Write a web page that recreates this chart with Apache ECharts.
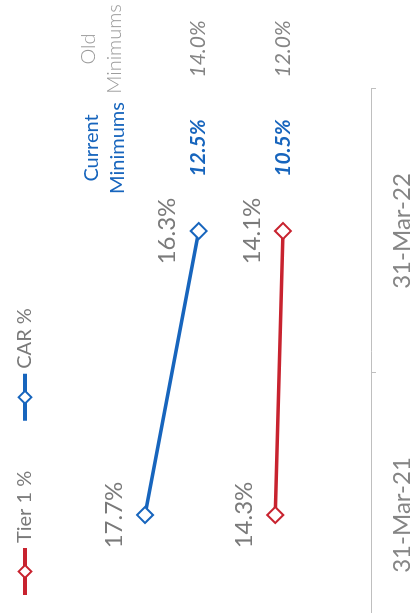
<!DOCTYPE html>
<html>
<head>
<meta charset="utf-8">
<script src="https://cdn.jsdelivr.net/npm/echarts@6/dist/echarts.min.js"></script>
<style>
  html, body { margin: 0; padding: 0; background: #fff; }
  .page { width: 412px; height: 613px; position: relative; overflow: hidden; }
  /* chart is drawn upright and then turned a quarter turn, like the scan */
  .chart {
    position: absolute; left: 0; top: 0;
    width: 613px; height: 412px;
    transform-origin: 0 0;
    transform: translate(0, 613px) rotate(-90deg);
  }
</style>
</head>
<body>
<div class="page"><div class="chart" id="main"></div></div>
<script>
// data
const categories = ['31-Mar-21', '31-Mar-22'];
const tier1 = [14.3, 14.1];
const car = [17.7, 16.3];
// minimums table (row order: CAR, Tier 1)
const currentMin = [12.5, 10.5];
const oldMin = [14.0, 12.0];
const colTitles = ['Current\nMinimums', 'Old\nMinimums'];

const fontFam = 'Lato, "Open Sans", sans-serif';
const grey = '#7a7a7a';
const blue = '#1765bd';
const red = '#c8232f';

const chart = echarts.init(document.getElementById('main'));

const pct = (p) => p.value.toFixed(1) + '%';

chart.setOption({
  backgroundColor: '#fff',
  animation: false,
  textStyle: { fontFamily: fontFam },
  legend: {
    data: ['Tier 1 %', 'CAR %'],
    left: 11,
    top: 10,
    itemWidth: 47,
    itemHeight: 16,
    itemGap: 48,
    lineStyle: { width: 4 },
    textStyle: { fontSize: 20, color: grey, fontFamily: fontFam }
  },
  grid: {
    left: -44,
    right: 89,
    top: 57,
    bottom: 41,
    outerBoundsMode: 'none',
    containLabel: false
  },
  xAxis: {
    type: 'category',
    data: categories,
    boundaryGap: true,
    axisLine: { lineStyle: { color: '#bfbfbf', width: 1 } },
    axisTick: { show: true, length: 5, lineStyle: { color: '#bfbfbf' } },
    axisLabel: { fontSize: 24, color: '#858585', margin: 19, fontFamily: fontFam }
  },
  yAxis: {
    type: 'value',
    min: 11.8,
    max: 20,
    show: false,
    splitLine: { show: false }
  },
  series: [
    {
      name: 'Tier 1 %',
      type: 'line',
      data: tier1,
      symbol: 'emptyDiamond',
      symbolSize: 16,
      color: red,
      lineStyle: { width: 3.5, color: red },
      itemStyle: { color: red, borderWidth: 2 },
      label: { show: true, position: 'top', distance: 10, fontSize: 24, color: grey, formatter: pct }
    },
    {
      name: 'CAR %',
      type: 'line',
      data: car,
      symbol: 'emptyDiamond',
      symbolSize: 16,
      color: blue,
      lineStyle: { width: 3.5, color: blue },
      itemStyle: { color: blue, borderWidth: 2 },
      label: { show: true, position: 'top', distance: 10, fontSize: 24, color: grey, formatter: pct }
    }
  ]
});

// minimums table: rows sit level with the latest point of each series
const rowY = [
  chart.convertToPixel({ yAxisIndex: 0 }, car[1]),
  chart.convertToPixel({ yAxisIndex: 0 }, tier1[1])
];
const curX = 465;
const oldX = 564;

const graphics = [
  {
    type: 'text', x: curX, y: 105,
    style: {
      text: colTitles[0], fill: blue, font: '20px ' + fontFam,
      align: 'center', verticalAlign: 'middle', lineHeight: 26
    }
  },
  {
    type: 'text', x: oldX, y: 102,
    style: {
      text: colTitles[1], fill: '#9a9a9a', font: '300 20px ' + fontFam,
      align: 'center', verticalAlign: 'middle', lineHeight: 26
    }
  }
];
rowY.forEach((y, i) => {
  graphics.push({
    type: 'text', x: curX, y: y,
    style: {
      text: currentMin[i].toFixed(1) + '%', fill: blue,
      font: 'italic bold 21px ' + fontFam, align: 'center', verticalAlign: 'middle'
    }
  });
  graphics.push({
    type: 'text', x: oldX, y: y,
    style: {
      text: oldMin[i].toFixed(1) + '%', fill: '#858585',
      font: 'italic 21px ' + fontFam, align: 'center', verticalAlign: 'middle'
    }
  });
});
chart.setOption({ graphic: graphics });
</script>
</body>
</html>
